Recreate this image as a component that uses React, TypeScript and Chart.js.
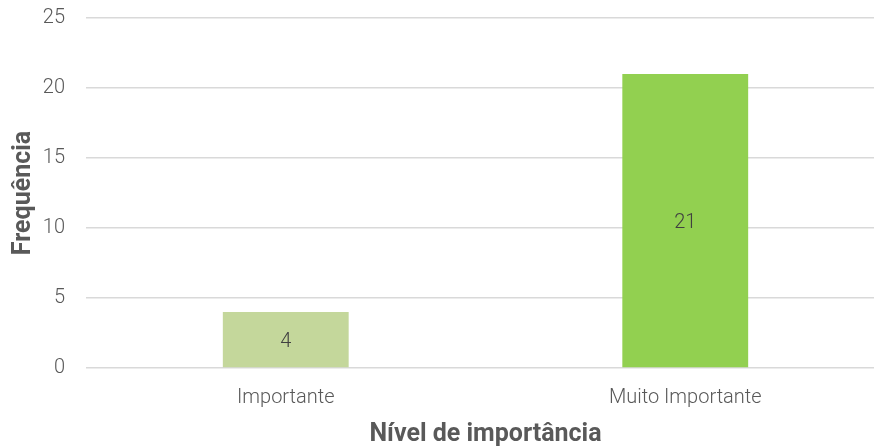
import React, { useEffect, useRef } from "react";
import { Chart, registerables } from "chart.js";

Chart.register(...registerables);

const categories = ["Importante", "Muito Importante"];
const values = [4, 21];
const barColors = ["#c4d79b", "#92d050"];
const yTicks = [0, 5, 10, 15, 20, 25];
const xTitle = "Nível de importância";
const yTitle = "Frequência";

const dataLabels = {
  id: "dataLabels",
  afterDatasetsDraw(chart: any) {
    const ctx = chart.ctx;
    ctx.save();
    ctx.font = "300 20px Roboto";
    ctx.fillStyle = "#404040";
    ctx.textAlign = "center";
    ctx.textBaseline = "middle";
    chart.getDatasetMeta(0).data.forEach((el: any, i: number) => {
      const y = (el.y + el.base) / 2;
      ctx.fillText(String(values[i]), el.x, y + 2);
    });
    ctx.restore();
  },
};

export default function App() {
  const ref = useRef<HTMLCanvasElement>(null);
  useEffect(() => {
    document.body.style.margin = "0";
    const canvas = ref.current!;
    const chart = new Chart(canvas, {
      type: "bar",
      data: {
        labels: categories,
        datasets: [
          {
            data: values,
            backgroundColor: barColors,
            barPercentage: 0.315,
            categoryPercentage: 1,
          },
        ],
      },
      options: {
        responsive: false,
        animation: false,
        layout: { autoPadding: false, padding: { top: 18, right: 1, left: 0, bottom: 0 } },
        plugins: { legend: { display: false }, tooltip: { enabled: false } },
        scales: {
          x: {
            grid: { display: false, drawTicks: false },
            border: { display: false },
            ticks: {
              color: "#595959",
              font: { family: "Roboto", size: 20, weight: "300" },
              padding: 18,
            },
            title: {
              display: true,
              text: xTitle,
              color: "#595959",
              font: { family: "Roboto", size: 25, weight: "bold", lineHeight: 1 },
              padding: { top: 0, bottom: 0 },
            },
            afterFit: (s: any) => {
              s.height = 79;
            },
          },
          y: {
            min: 0,
            max: 25,
            afterBuildTicks: (s: any) => {
              s.ticks = yTicks.map((v) => ({ value: v }));
            },
            grid: {
              color: "#d9d9d9",
              lineWidth: 1.5,
              drawTicks: true,
              tickLength: 21,
              tickColor: "rgba(0,0,0,0)",
            },
            border: { display: false },
            ticks: {
              color: "#595959",
              font: { family: "Roboto", size: 20, weight: "300" },
              padding: 0,
            },
            title: {
              display: true,
              text: yTitle,
              color: "#595959",
              font: { family: "Roboto", size: 25, weight: "bold", lineHeight: 1 },
              padding: { top: 11, bottom: 0 },
            },
            afterFit: (s: any) => {
              s.width = 86;
            },
          },
        },
      },
      plugins: [dataLabels],
    });
    return () => chart.destroy();
  }, []);
  return (
    <div style={{ width: 874, height: 447, overflow: "hidden", background: "#fff" }}>
      <canvas ref={ref} width={886} height={447} />
    </div>
  );
}
